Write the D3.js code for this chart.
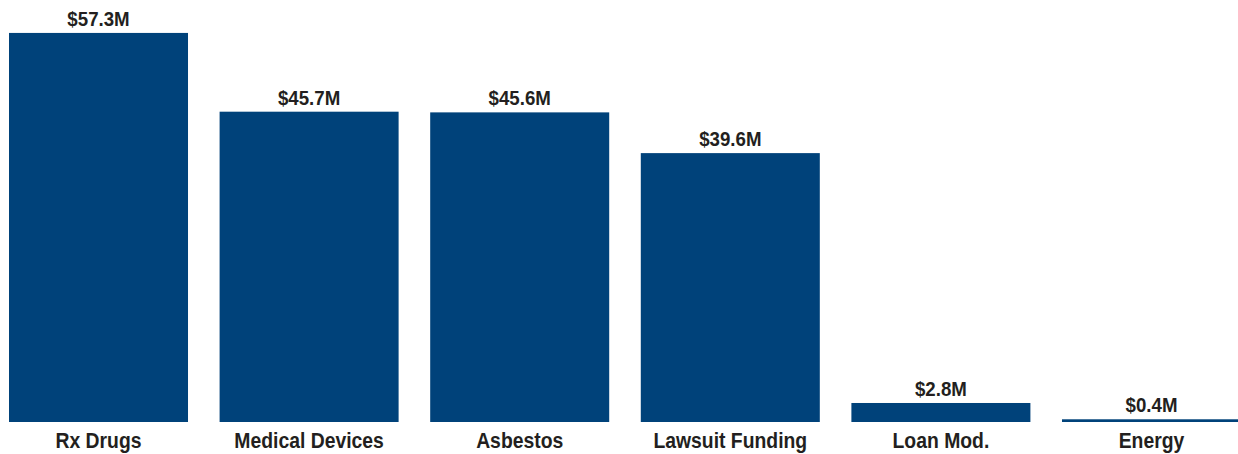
<!DOCTYPE html>
<html>
<head>
<meta charset="utf-8">
<script src="https://cdn.jsdelivr.net/npm/d3@7"></script>
<style>
  html, body { margin: 0; padding: 0; background: #fff; }
  svg { display: block; }
  text { font-family: "Liberation Sans", Arial, sans-serif; font-weight: bold; fill: #231f20; }
</style>
</head>
<body>
<svg id="chart" width="1238" height="454"></svg>
<script>
const categories = ["Rx Drugs", "Medical Devices", "Asbestos", "Lawsuit Funding", "Loan Mod.", "Energy"];
const values = [57.3, 45.7, 45.6, 39.6, 2.8, 0.4];
const valueLabels = ["$57.3M", "$45.7M", "$45.6M", "$39.6M", "$2.8M", "$0.4M"];

const svg = d3.select("#chart");

const x = d3.scaleBand()
  .domain(categories)
  .range([9, 1241])
  .paddingInner(0.15)
  .paddingOuter(0);

const y = d3.scaleLinear()
  .domain([0, 60])
  .range([422, 14.6]);

const data = categories.map((c, i) => ({ cat: c, value: values[i], label: valueLabels[i] }));

svg.append("g").selectAll("rect")
  .data(data)
  .join("rect")
  .attr("x", d => x(d.cat))
  .attr("y", d => y(d.value))
  .attr("width", x.bandwidth())
  .attr("height", d => y(0) - y(d.value))
  .attr("fill", "#00427a");

// Value labels, horizontally condensed
svg.append("g").selectAll("text")
  .data(data)
  .join("text")
  .attr("transform", d => `translate(${x(d.cat) + x.bandwidth() / 2},${y(d.value) - 7}) scale(0.89,1)`)
  .attr("text-anchor", "middle")
  .attr("font-size", 21)
  .text(d => d.label);

// Category axis below the baseline, no line or ticks
const xAxis = svg.append("g")
  .attr("transform", `translate(0,${y(0)})`)
  .call(d3.axisBottom(x).tickSize(0).tickPadding(0));
xAxis.select(".domain").remove();
xAxis.selectAll("text")
  .attr("y", 0)
  .attr("dy", null)
  .attr("transform", "translate(0,25.5) scale(0.88,1)")
  .attr("font-size", 22)
  .style("font-family", "'Liberation Sans', Arial, sans-serif")
  .style("font-weight", "bold")
  .attr("fill", "#231f20");
</script>
</body>
</html>
